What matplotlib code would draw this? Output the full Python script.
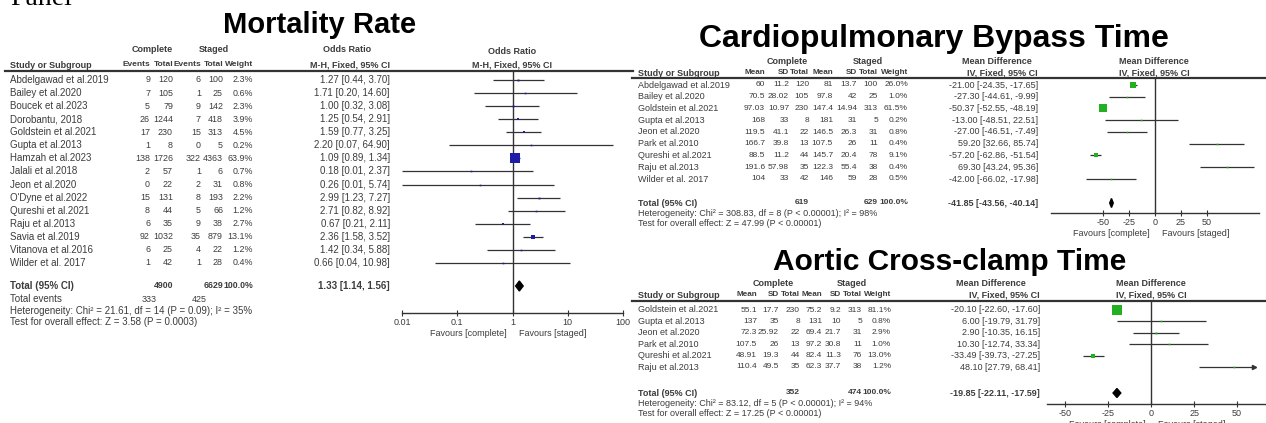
import numpy as np
import matplotlib
matplotlib.use('Agg')
import matplotlib.pyplot as plt

plt.rcParams['font.family'] = ['Liberation Sans', 'DejaVu Sans']
plt.rcParams['axes.unicode_minus'] = False

# ---------------- Mortality rate (odds ratio, M-H fixed) ----------------
mort_studies = ["Abdelgawad et al.2019", "Bailey et al.2020", "Boucek et al.2023",
                "Dorobantu, 2018", "Goldstein et al.2021", "Gupta et al.2013",
                "Hamzah et al.2023", "Jalali et al.2018", "Jeon et al.2020",
                "O'Dyne et al.2022", "Qureshi et al.2021", "Raju et al.2013",
                "Savia et al.2019", "Vitanova et al.2016", "Wilder et al. 2017"]
mort_ev_c = [9, 7, 5, 26, 17, 1, 138, 2, 0, 15, 8, 6, 92, 6, 1]
mort_n_c = [120, 105, 79, 1244, 230, 8, 1726, 57, 22, 131, 44, 35, 1032, 25, 42]
mort_ev_s = [6, 1, 9, 7, 15, 0, 322, 1, 2, 8, 5, 9, 35, 4, 1]
mort_n_s = [100, 25, 142, 418, 313, 5, 4363, 6, 31, 193, 66, 38, 879, 22, 28]
mort_weight = [2.3, 0.6, 2.3, 3.9, 4.5, 0.2, 63.9, 0.7, 0.8, 2.2, 1.2, 2.7, 13.1, 1.2, 0.4]
mort_or = [1.27, 1.71, 1.00, 1.25, 1.59, 2.20, 1.09, 0.18, 0.26, 2.99, 2.71, 0.67, 2.36, 1.42, 0.66]
mort_lo = [0.44, 0.20, 0.32, 0.54, 0.77, 0.07, 0.89, 0.01, 0.01, 1.23, 0.82, 0.21, 1.58, 0.34, 0.04]
mort_hi = [3.70, 14.60, 3.08, 2.91, 3.25, 64.90, 1.34, 2.37, 5.74, 7.27, 8.92, 2.11, 3.52, 5.88, 10.98]
mort_total = (1.33, 1.14, 1.56)

# ---------------- Cardiopulmonary bypass time (mean difference) ----------------
cpb_studies = ["Abdelgawad et al.2019", "Bailey et al.2020", "Goldstein et al.2021",
               "Gupta et al.2013", "Jeon et al.2020", "Park et al.2010",
               "Qureshi et al.2021", "Raju et al.2013", "Wilder et al. 2017"]
cpb_mean_c = [60, 70.5, 97.03, 168, 119.5, 166.7, 88.5, 191.6, 104]
cpb_sd_c = [11.2, 28.02, 10.97, 33, 41.1, 39.8, 11.2, 57.98, 33]
cpb_n_c = [120, 105, 230, 8, 22, 13, 44, 35, 42]
cpb_mean_s = [81, 97.8, 147.4, 181, 146.5, 107.5, 145.7, 122.3, 146]
cpb_sd_s = [13.7, 42, 14.94, 31, 26.3, 26, 20.4, 55.4, 59]
cpb_n_s = [100, 25, 313, 5, 31, 11, 78, 38, 28]
cpb_weight = [26.0, 1.0, 61.5, 0.2, 0.8, 0.4, 9.1, 0.4, 0.5]
cpb_md = [-21.00, -27.30, -50.37, -13.00, -27.00, 59.20, -57.20, 69.30, -42.00]
cpb_lo = [-24.35, -44.61, -52.55, -48.51, -46.51, 32.66, -62.86, 43.24, -66.02]
cpb_hi = [-17.65, -9.99, -48.19, 22.51, -7.49, 85.74, -51.54, 95.36, -17.98]
cpb_total = (-41.85, -43.56, -40.14)

# ---------------- Aortic cross-clamp time (mean difference) ----------------
acc_studies = ["Goldstein et al.2021", "Gupta et al.2013", "Jeon et al.2020",
               "Park et al.2010", "Qureshi et al.2021", "Raju et al.2013"]
acc_mean_c = [55.1, 137, 72.3, 107.5, 48.91, 110.4]
acc_sd_c = [17.7, 35, 25.92, 26, 19.3, 49.5]
acc_n_c = [230, 8, 22, 13, 44, 35]
acc_mean_s = [75.2, 131, 69.4, 97.2, 82.4, 62.3]
acc_sd_s = [9.2, 10, 21.7, 30.8, 11.3, 37.7]
acc_n_s = [313, 5, 31, 11, 76, 38]
acc_weight = [81.1, 0.8, 2.9, 1.0, 13.0, 1.2]
acc_md = [-20.10, 6.00, 2.90, 10.30, -33.49, 48.10]
acc_lo = [-22.60, -19.79, -10.35, -12.74, -39.73, 27.79]
acc_hi = [-17.60, 31.79, 16.15, 33.34, -27.25, 68.41]
acc_total = (-19.85, -22.11, -17.59)

W, H = 1266, 423
TXT = '#3c3c3c'
LINE = '#333333'

fig = plt.figure(figsize=(W / 100, H / 100), dpi=100)
bg = fig.add_axes([0, 0, 1, 1])
bg.set_xlim(0, W)
bg.set_ylim(H, 0)
bg.axis('off')


def txt(x, y, s, ha='left', size=7, bold=False, color=TXT):
    bg.text(x, y, s, ha=ha, va='center', fontsize=size, color=color,
            fontweight='bold' if bold else 'normal')


def num(v):
    return f"{v:g}"


def ci(e, lo, hi):
    return f"{e:.2f} [{lo:.2f}, {hi:.2f}]"


def forest_axes(x0, x1, y_top, y_axis, xlim, ticks, labels, null, log=False):
    ax = fig.add_axes([x0 / W, 1 - y_axis / H, (x1 - x0) / W, (y_axis - y_top) / H])
    ax.patch.set_alpha(0)
    if log:
        ax.set_xscale('log')
    ax.set_xlim(*xlim)
    ax.set_ylim(y_axis, y_top)  # y in figure pixels, so rows line up with the table
    for s in ('left', 'right', 'top'):
        ax.spines[s].set_visible(False)
    ax.spines['bottom'].set_color(LINE)
    ax.spines['bottom'].set_linewidth(1.0)
    ax.set_yticks([])
    ax.set_xticks(ticks)
    ax.set_xticklabels(labels, fontsize=6.5, color=TXT)
    ax.xaxis.set_minor_locator(plt.NullLocator())
    ax.tick_params(axis='x', direction='inout', length=5, width=0.8, color=LINE, pad=1)
    ax.axvline(null, color=LINE, lw=1.0, zorder=1)
    ax.annotate('Favours [complete]', xy=(null, 0), xycoords=('data', 'axes fraction'),
                xytext=(-4, -14.5), textcoords='offset points', ha='right', va='center',
                fontsize=6.5, color=TXT)
    ax.annotate('Favours [staged]', xy=(null, 0), xycoords=('data', 'axes fraction'),
                xytext=(5, -14.5), textcoords='offset points', ha='left', va='center',
                fontsize=6.5, color=TXT)
    return ax


def draw_forest(ax, est, lo, hi, weights, ys, color, scale, clip=None):
    for e, l, h, w, y in zip(est, lo, hi, weights, ys):
        right = h if clip is None else min(h, clip)
        ax.plot([l, right], [y, y], color=LINE, lw=0.9, zorder=2, solid_capstyle='butt')
        if clip is not None and h > clip:
            ax.plot(right, y, marker='>', ms=3, color=LINE, zorder=2)
        side = max(1.6, scale * np.sqrt(w))
        ax.plot(e, y, marker='s', ms=side * 0.72, color=color, mec=color, mew=0, zorder=3)


def diamond(ax, tot, y, half):
    e, l, h = tot
    ax.fill([l, e, h, e], [y, y - half, y, y + half], color='black', zorder=3)


def md_table(studies, cols, col_x, row0, step, tot_y, n_c, n_s, total, het, test,
             hdr1_y, hdr2_y, line_y, group_x, md_x, plot_x):
    NS = 6.5   # study names, CI text
    VS = 6.0   # numbers
    HS = 5.9   # short column headers
    txt(group_x[0], hdr1_y, 'Complete', ha='center', size=NS, bold=True)
    txt(group_x[1], hdr1_y, 'Staged', ha='center', size=NS, bold=True)
    txt(md_x, hdr1_y, 'Mean Difference', ha='center', size=NS, bold=True)
    txt(plot_x, hdr1_y, 'Mean Difference', ha='center', size=NS, bold=True)
    txt(638, hdr2_y, 'Study or Subgroup', size=NS, bold=True)
    for label, xr in zip(['Mean', 'SD', 'Total', 'Mean', 'SD', 'Total', 'Weight'], col_x[:7]):
        txt(xr, hdr2_y, label, ha='right', size=HS, bold=True)
    txt(col_x[7], hdr2_y, 'IV, Fixed, 95% CI', ha='right', size=NS, bold=True)
    txt(plot_x, hdr2_y, 'IV, Fixed, 95% CI', ha='center', size=NS, bold=True)
    bg.plot([632, 1266], [line_y, line_y], color=LINE, lw=1.6)
    ys = [row0 + i * step for i in range(len(studies))]
    for i, y in enumerate(ys):
        txt(638, y, studies[i], size=NS)
        for c, xr in zip([col[i] for col in cols], col_x[:7]):
            txt(xr, y, c, ha='right', size=VS)
        txt(col_x[7], y, cols[7][i], ha='right', size=NS)
    txt(638, tot_y, 'Total (95% CI)', size=NS, bold=True)
    txt(col_x[2], tot_y, str(sum(n_c)), ha='right', size=VS, bold=True)
    txt(col_x[5], tot_y, str(sum(n_s)), ha='right', size=VS, bold=True)
    txt(col_x[6], tot_y, '100.0%', ha='right', size=VS, bold=True)
    txt(col_x[7], tot_y, ci(*total), ha='right', size=NS, bold=True)
    txt(638, tot_y + 10, het, size=NS)
    txt(638, tot_y + 20, test, size=NS)
    return ys


# ---------------- "Panel" text cut at the top ----------------
bg.text(10, 5, 'Panel', ha='left', va='baseline', fontsize=20,
        family='Liberation Serif', color='black')

# ================= Mortality panel =================
bg.text(320, 33, 'Mortality Rate', ha='center', va='baseline', fontsize=21,
        fontweight='bold', color='black')
m_cols = [150, 173, 201, 223, 253, 390]
m_ys = [80 + i * 13.07 for i in range(len(mort_studies))]
txt(152, 50, 'Complete', ha='center', size=6.5, bold=True)
txt(214, 50, 'Staged', ha='center', size=6.5, bold=True)
txt(347, 50, 'Odds Ratio', ha='center', size=6.5, bold=True)
txt(512, 52, 'Odds Ratio', ha='center', size=6.5, bold=True)
hdr_y = 65
txt(10, hdr_y, 'Study or Subgroup', size=6.5, bold=True)
for label, xr in zip(['Events', 'Total', 'Events', 'Total', 'Weight'], m_cols[:5]):
    txt(xr, hdr_y, label, ha='right', size=6.0, bold=True)
txt(m_cols[5], hdr_y, 'M-H, Fixed, 95% CI', ha='right', size=6.5, bold=True)
txt(512, hdr_y, 'M-H, Fixed, 95% CI', ha='center', size=6.5, bold=True)
bg.plot([5, 633], [71, 71], color=LINE, lw=1.6)

for i, y in enumerate(m_ys):
    txt(10, y, mort_studies[i])
    cells = [str(mort_ev_c[i]), str(mort_n_c[i]), str(mort_ev_s[i]), str(mort_n_s[i]),
             f"{mort_weight[i]:.1f}%"]
    for c, xr in zip(cells, m_cols[:5]):
        txt(xr, y, c, ha='right', size=6.4)
    txt(m_cols[5], y, ci(mort_or[i], mort_lo[i], mort_hi[i]), ha='right')

m_tot_y = 286
txt(10, m_tot_y, 'Total (95% CI)', bold=True)
txt(m_cols[1], m_tot_y, str(sum(mort_n_c)), ha='right', size=6.3, bold=True)
txt(m_cols[3], m_tot_y, str(sum(mort_n_s)), ha='right', size=6.3, bold=True)
txt(m_cols[4], m_tot_y, '100.0%', ha='right', size=6.3, bold=True)
txt(m_cols[5], m_tot_y, ci(*mort_total), ha='right', bold=True)
txt(10, 299, 'Total events')
txt(157, 299, str(sum(mort_ev_c)), ha='right', size=6.4)
txt(207, 299, str(sum(mort_ev_s)), ha='right', size=6.4)
txt(10, 311, 'Heterogeneity: Chi² = 21.61, df = 14 (P = 0.09); I² = 35%')
txt(10, 322, 'Test for overall effect: Z = 3.58 (P = 0.0003)')

ax_m = forest_axes(402, 623, 71, 313, (0.01, 100), [0.01, 0.1, 1, 10, 100],
                   ['0.01', '0.1', '1', '10', '100'], 1, log=True)
draw_forest(ax_m, mort_or, mort_lo, mort_hi, mort_weight, m_ys, '#1c1ca8', 1.25)
diamond(ax_m, mort_total, m_tot_y, 5)

# ================= Cardiopulmonary bypass panel =================
bg.text(934, 47, 'Cardiopulmonary Bypass Time', ha='center', va='baseline', fontsize=23,
        fontweight='bold', color='black')
cpb_cols = [[num(v) for v in cpb_mean_c], [num(v) for v in cpb_sd_c], [str(v) for v in cpb_n_c],
            [num(v) for v in cpb_mean_s], [num(v) for v in cpb_sd_s], [str(v) for v in cpb_n_s],
            [f"{w:.1f}%" for w in cpb_weight],
            [ci(*t) for t in zip(cpb_md, cpb_lo, cpb_hi)]]
c_ys = md_table(cpb_studies, cpb_cols, [765, 789, 809, 833, 857, 878, 908, 1038],
                85, 11.75, 203, cpb_n_c, cpb_n_s, cpb_total,
                'Heterogeneity: Chi² = 308.83, df = 8 (P < 0.00001); I² = 98%',
                'Test for overall effect: Z = 47.99 (P < 0.00001)',
                62, 73, 78, (787, 868), 997, 1154)
ax_c = forest_axes(1051, 1259, 78, 213, (-100, 100), [-50, -25, 0, 25, 50],
                   ['-50', '-25', '0', '25', '50'], 0)
draw_forest(ax_c, cpb_md, cpb_lo, cpb_hi, cpb_weight, c_ys, '#22b022', 1.1)
diamond(ax_c, cpb_total, 203, 4.5)

# ================= Aortic cross-clamp panel =================
bg.text(950, 270, 'Aortic Cross-clamp Time', ha='center', va='baseline', fontsize=21.5,
        fontweight='bold', color='black')
acc_cols = [[num(v) for v in acc_mean_c], [num(v) for v in acc_sd_c], [str(v) for v in acc_n_c],
            [num(v) for v in acc_mean_s], [num(v) for v in acc_sd_s], [str(v) for v in acc_n_s],
            [f"{w:.1f}%" for w in acc_weight],
            [ci(*t) for t in zip(acc_md, acc_lo, acc_hi)]]
a_ys = md_table(acc_studies, acc_cols, [757, 779, 800, 822, 841, 862, 891, 1040],
                310, 11.4, 393, acc_n_c, acc_n_s, acc_total,
                'Heterogeneity: Chi² = 83.12, df = 5 (P < 0.00001); I² = 94%',
                'Test for overall effect: Z = 17.25 (P < 0.00001)',
                283, 295, 301, (773, 852), 991, 1151)
ax_a = forest_axes(1047, 1266, 301, 404, (-60.5, 66.8), [-50, -25, 0, 25, 50],
                   ['-50', '-25', '0', '25', '50'], 0)
draw_forest(ax_a, acc_md, acc_lo, acc_hi, acc_weight, a_ys, '#22b022', 1.15, clip=60)
diamond(ax_a, acc_total, 393, 4.5)

fig.savefig('out.png', dpi=100)
